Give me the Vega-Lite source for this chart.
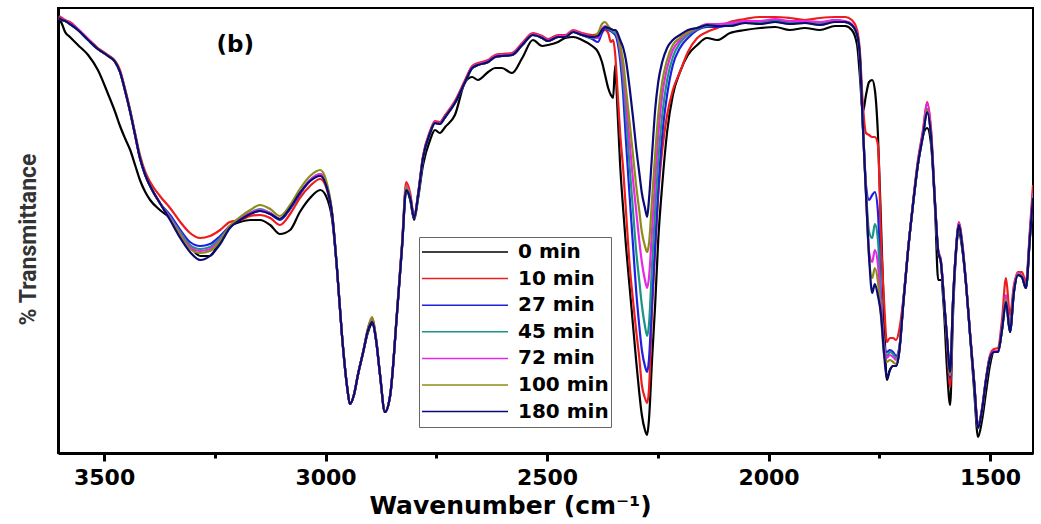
{
"$schema": "https://vega.github.io/schema/vega-lite/v6.json",
"width": 975, "height": 445,
"autosize": {"type": "none"},
"padding": {"left": 58, "top": 8, "right": 8, "bottom": 71},
"background": "white",
"config": {"view": {"stroke": "black", "strokeWidth": 2}, "axis": {"grid": false}},
"encoding": {
 "x": {"field": "wn", "type": "quantitative", "scale": {"domain": [1403, 3604], "reverse": true, "nice": false, "zero": false},
  "axis": {"title": "Wavenumber (cm⁻¹)", "values": [3500,3250,3000,2750,2500,2250,2000,1750,1500], "format": "d",
   "labelExpr": "datum.value % 500 === 0 ? datum.label : ''",
   "tickSize": {"condition": {"test": "datum.value % 500 === 0", "value": 8}, "value": 5},
   "tickWidth": 3, "tickColor": "black", "domainColor": "black", "domainWidth": 3,
   "labelFont": "DejaVu Sans", "labelFontWeight": "bold", "labelFontSize": 22, "labelColor": "black", "labelPadding": 6,
   "labelOverlap": false, "labelFlush": false,
   "titleFont": "DejaVu Sans", "titleFontWeight": "bold", "titleFontSize": 25, "titleColor": "black",
   "titleX": 452, "titleY": 60, "titleBaseline": "alphabetic", "titleAlign": "center"}},
 "y": {"field": "T", "type": "quantitative", "scale": {"domain": [0, 445], "nice": false, "zero": false},
  "axis": {"title": "% Transmittance", "ticks": false, "labels": false, "domainColor": "black", "domainWidth": 3,
   "titleFont": "Roboto", "titleFontWeight": "bold", "titleFontSize": 23, "titleColor": "#333333",
   "titleAngle": -90, "titleX": -23, "titleY": 231, "titleAlign": "center", "titleBaseline": "alphabetic"}}
},
"layer": [
{
"mark": {"type": "line", "strokeWidth": 2.2, "clip": true, "interpolate": "monotone"},
"encoding": {
 "color": {"field": "min", "type": "nominal",
  "scale": {"domain": [0,10,27,45,72,100,180], "range": ["#000000","#ee1c1c","#1f1fe0","#1a9488","#e628e6","#8c8c1a","#0a0a78"]},
  "legend": {"title": null, "orient": "none", "legendX": 361, "legendY": 229, "direction": "vertical",
   "symbolType": "stroke", "symbolSize": 7396, "symbolStrokeWidth": 1.5, "labelExpr": "datum.label + ' min'",
   "labelFont": "DejaVu Sans", "labelFontWeight": "bold", "labelFontSize": 20, "labelColor": "black", "labelOffset": 9,
   "padding": 2, "strokeColor": "#666666", "fillColor": "white", "clipHeight": 26, "rowPadding": 0.6, "symbolOffset": 0, "labelLimit": 200}}
},
"data": {"values": [
{"min":0,"wn":3602,"T":435},{"min":0,"wn":3595,"T":429},{"min":0,"wn":3588,"T":421},{"min":0,"wn":3577,"T":416},{"min":0,"wn":3559,"T":408},{"min":0,"wn":3536,"T":398},{"min":0,"wn":3514,"T":383},{"min":0,"wn":3491,"T":359},{"min":0,"wn":3475,"T":341},{"min":0,"wn":3464,"T":327},{"min":0,"wn":3453,"T":315},{"min":0,"wn":3441,"T":303},{"min":0,"wn":3430,"T":288},{"min":0,"wn":3419,"T":273},{"min":0,"wn":3407,"T":261},{"min":0,"wn":3396,"T":253},{"min":0,"wn":3374,"T":243},{"min":0,"wn":3351,"T":235},{"min":0,"wn":3328,"T":221},{"min":0,"wn":3306,"T":207},{"min":0,"wn":3283,"T":197},{"min":0,"wn":3261,"T":197},{"min":0,"wn":3238,"T":213},{"min":0,"wn":3216,"T":227},{"min":0,"wn":3193,"T":231},{"min":0,"wn":3170,"T":233},{"min":0,"wn":3148,"T":233},{"min":0,"wn":3125,"T":228},{"min":0,"wn":3103,"T":219},{"min":0,"wn":3080,"T":223},{"min":0,"wn":3058,"T":241},{"min":0,"wn":3035,"T":255},{"min":0,"wn":3012,"T":263},{"min":0,"wn":2999,"T":257},{"min":0,"wn":2985,"T":233},{"min":0,"wn":2974,"T":183},{"min":0,"wn":2963,"T":118},{"min":0,"wn":2951,"T":65},{"min":0,"wn":2945,"T":49},{"min":0,"wn":2936,"T":58},{"min":0,"wn":2927,"T":78},{"min":0,"wn":2915,"T":101},{"min":0,"wn":2904,"T":121},{"min":0,"wn":2895,"T":129},{"min":0,"wn":2886,"T":113},{"min":0,"wn":2877,"T":78},{"min":0,"wn":2866,"T":41},{"min":0,"wn":2854,"T":58},{"min":0,"wn":2839,"T":138},{"min":0,"wn":2827,"T":208},{"min":0,"wn":2818,"T":263},{"min":0,"wn":2809,"T":253},{"min":0,"wn":2800,"T":233},{"min":0,"wn":2791,"T":255},{"min":0,"wn":2780,"T":288},{"min":0,"wn":2764,"T":313},{"min":0,"wn":2753,"T":323},{"min":0,"wn":2742,"T":320},{"min":0,"wn":2730,"T":326},{"min":0,"wn":2708,"T":338},{"min":0,"wn":2685,"T":371},{"min":0,"wn":2669,"T":376},{"min":0,"wn":2656,"T":373},{"min":0,"wn":2633,"T":381},{"min":0,"wn":2617,"T":385},{"min":0,"wn":2602,"T":385},{"min":0,"wn":2579,"T":380},{"min":0,"wn":2556,"T":395},{"min":0,"wn":2532,"T":413},{"min":0,"wn":2511,"T":407},{"min":0,"wn":2498,"T":408},{"min":0,"wn":2475,"T":411},{"min":0,"wn":2459,"T":415},{"min":0,"wn":2441,"T":416},{"min":0,"wn":2421,"T":413},{"min":0,"wn":2398,"T":407},{"min":0,"wn":2385,"T":401},{"min":0,"wn":2376,"T":391},{"min":0,"wn":2369,"T":378},{"min":0,"wn":2362,"T":365},{"min":0,"wn":2356,"T":358},{"min":0,"wn":2351,"T":355},{"min":0,"wn":2346,"T":388},{"min":0,"wn":2342,"T":353},{"min":0,"wn":2335,"T":288},{"min":0,"wn":2328,"T":243},{"min":0,"wn":2322,"T":208},{"min":0,"wn":2313,"T":163},{"min":0,"wn":2306,"T":128},{"min":0,"wn":2299,"T":93},{"min":0,"wn":2292,"T":61},{"min":0,"wn":2286,"T":38},{"min":0,"wn":2279,"T":23},{"min":0,"wn":2274,"T":18},{"min":0,"wn":2270,"T":33},{"min":0,"wn":2263,"T":93},{"min":0,"wn":2256,"T":148},{"min":0,"wn":2249,"T":213},{"min":0,"wn":2240,"T":268},{"min":0,"wn":2229,"T":321},{"min":0,"wn":2216,"T":358},{"min":0,"wn":2200,"T":381},{"min":0,"wn":2182,"T":398},{"min":0,"wn":2161,"T":408},{"min":0,"wn":2139,"T":415},{"min":0,"wn":2116,"T":413},{"min":0,"wn":2087,"T":420},{"min":0,"wn":2053,"T":423},{"min":0,"wn":2019,"T":425},{"min":0,"wn":1985,"T":426},{"min":0,"wn":1952,"T":423},{"min":0,"wn":1918,"T":425},{"min":0,"wn":1884,"T":423},{"min":0,"wn":1850,"T":427},{"min":0,"wn":1827,"T":427},{"min":0,"wn":1812,"T":423},{"min":0,"wn":1800,"T":408},{"min":0,"wn":1794,"T":378},{"min":0,"wn":1787,"T":341},{"min":0,"wn":1780,"T":358},{"min":0,"wn":1773,"T":371},{"min":0,"wn":1766,"T":373},{"min":0,"wn":1760,"T":363},{"min":0,"wn":1753,"T":318},{"min":0,"wn":1746,"T":228},{"min":0,"wn":1739,"T":133},{"min":0,"wn":1733,"T":73},{"min":0,"wn":1726,"T":83},{"min":0,"wn":1719,"T":87},{"min":0,"wn":1712,"T":87},{"min":0,"wn":1705,"T":101},{"min":0,"wn":1696,"T":148},{"min":0,"wn":1685,"T":203},{"min":0,"wn":1674,"T":248},{"min":0,"wn":1663,"T":288},{"min":0,"wn":1651,"T":318},{"min":0,"wn":1642,"T":325},{"min":0,"wn":1633,"T":308},{"min":0,"wn":1624,"T":243},{"min":0,"wn":1617,"T":173},{"min":0,"wn":1611,"T":173},{"min":0,"wn":1604,"T":143},{"min":0,"wn":1597,"T":83},{"min":0,"wn":1590,"T":48},{"min":0,"wn":1584,"T":133},{"min":0,"wn":1577,"T":198},{"min":0,"wn":1570,"T":221},{"min":0,"wn":1563,"T":205},{"min":0,"wn":1554,"T":168},{"min":0,"wn":1545,"T":118},{"min":0,"wn":1536,"T":63},{"min":0,"wn":1527,"T":16},{"min":0,"wn":1518,"T":33},{"min":0,"wn":1509,"T":61},{"min":0,"wn":1500,"T":88},{"min":0,"wn":1491,"T":101},{"min":0,"wn":1482,"T":101},{"min":0,"wn":1473,"T":123},{"min":0,"wn":1464,"T":151},{"min":0,"wn":1455,"T":121},{"min":0,"wn":1446,"T":161},{"min":0,"wn":1437,"T":178},{"min":0,"wn":1428,"T":176},{"min":0,"wn":1419,"T":165},{"min":0,"wn":1410,"T":215},{"min":0,"wn":1403,"T":255},
{"min":10,"wn":3602,"T":437},{"min":10,"wn":3595,"T":435},{"min":10,"wn":3588,"T":433},{"min":10,"wn":3577,"T":431},{"min":10,"wn":3559,"T":424},{"min":10,"wn":3536,"T":414},{"min":10,"wn":3514,"T":405},{"min":10,"wn":3491,"T":398},{"min":10,"wn":3475,"T":392},{"min":10,"wn":3464,"T":383},{"min":10,"wn":3453,"T":365},{"min":10,"wn":3441,"T":343},{"min":10,"wn":3430,"T":320},{"min":10,"wn":3419,"T":298},{"min":10,"wn":3407,"T":281},{"min":10,"wn":3396,"T":271},{"min":10,"wn":3374,"T":257},{"min":10,"wn":3351,"T":245},{"min":10,"wn":3328,"T":231},{"min":10,"wn":3306,"T":220},{"min":10,"wn":3283,"T":215},{"min":10,"wn":3261,"T":217},{"min":10,"wn":3238,"T":223},{"min":10,"wn":3216,"T":231},{"min":10,"wn":3193,"T":233},{"min":10,"wn":3170,"T":237},{"min":10,"wn":3148,"T":238},{"min":10,"wn":3125,"T":235},{"min":10,"wn":3103,"T":228},{"min":10,"wn":3080,"T":239},{"min":10,"wn":3058,"T":255},{"min":10,"wn":3035,"T":267},{"min":10,"wn":3012,"T":274},{"min":10,"wn":2999,"T":266},{"min":10,"wn":2985,"T":238},{"min":10,"wn":2974,"T":183},{"min":10,"wn":2963,"T":118},{"min":10,"wn":2951,"T":65},{"min":10,"wn":2945,"T":49},{"min":10,"wn":2936,"T":58},{"min":10,"wn":2927,"T":78},{"min":10,"wn":2915,"T":102},{"min":10,"wn":2904,"T":125},{"min":10,"wn":2895,"T":135},{"min":10,"wn":2886,"T":115},{"min":10,"wn":2877,"T":78},{"min":10,"wn":2866,"T":41},{"min":10,"wn":2854,"T":58},{"min":10,"wn":2839,"T":140},{"min":10,"wn":2827,"T":212},{"min":10,"wn":2818,"T":271},{"min":10,"wn":2809,"T":260},{"min":10,"wn":2800,"T":236},{"min":10,"wn":2791,"T":260},{"min":10,"wn":2780,"T":297},{"min":10,"wn":2764,"T":322},{"min":10,"wn":2753,"T":332},{"min":10,"wn":2742,"T":331},{"min":10,"wn":2730,"T":338},{"min":10,"wn":2708,"T":352},{"min":10,"wn":2685,"T":373},{"min":10,"wn":2669,"T":387},{"min":10,"wn":2656,"T":390},{"min":10,"wn":2633,"T":393},{"min":10,"wn":2617,"T":398},{"min":10,"wn":2602,"T":399},{"min":10,"wn":2579,"T":400},{"min":10,"wn":2556,"T":410},{"min":10,"wn":2532,"T":420},{"min":10,"wn":2511,"T":417},{"min":10,"wn":2498,"T":414},{"min":10,"wn":2475,"T":418},{"min":10,"wn":2459,"T":418},{"min":10,"wn":2441,"T":423},{"min":10,"wn":2421,"T":420},{"min":10,"wn":2398,"T":418},{"min":10,"wn":2385,"T":419},{"min":10,"wn":2376,"T":421},{"min":10,"wn":2369,"T":423},{"min":10,"wn":2362,"T":420},{"min":10,"wn":2356,"T":411},{"min":10,"wn":2351,"T":413},{"min":10,"wn":2346,"T":398},{"min":10,"wn":2342,"T":370},{"min":10,"wn":2335,"T":320},{"min":10,"wn":2328,"T":283},{"min":10,"wn":2322,"T":243},{"min":10,"wn":2313,"T":185},{"min":10,"wn":2306,"T":153},{"min":10,"wn":2299,"T":123},{"min":10,"wn":2292,"T":96},{"min":10,"wn":2286,"T":68},{"min":10,"wn":2279,"T":55},{"min":10,"wn":2274,"T":50},{"min":10,"wn":2270,"T":63},{"min":10,"wn":2263,"T":143},{"min":10,"wn":2256,"T":203},{"min":10,"wn":2249,"T":258},{"min":10,"wn":2240,"T":303},{"min":10,"wn":2229,"T":338},{"min":10,"wn":2216,"T":363},{"min":10,"wn":2200,"T":381},{"min":10,"wn":2182,"T":401},{"min":10,"wn":2161,"T":415},{"min":10,"wn":2139,"T":421},{"min":10,"wn":2116,"T":425},{"min":10,"wn":2087,"T":431},{"min":10,"wn":2053,"T":434},{"min":10,"wn":2019,"T":436},{"min":10,"wn":1985,"T":436},{"min":10,"wn":1952,"T":435},{"min":10,"wn":1918,"T":433},{"min":10,"wn":1884,"T":435},{"min":10,"wn":1850,"T":436},{"min":10,"wn":1827,"T":436},{"min":10,"wn":1812,"T":433},{"min":10,"wn":1800,"T":423},{"min":10,"wn":1794,"T":403},{"min":10,"wn":1787,"T":348},{"min":10,"wn":1780,"T":320},{"min":10,"wn":1773,"T":318},{"min":10,"wn":1766,"T":316},{"min":10,"wn":1760,"T":316},{"min":10,"wn":1753,"T":308},{"min":10,"wn":1746,"T":213},{"min":10,"wn":1739,"T":150},{"min":10,"wn":1733,"T":111},{"min":10,"wn":1726,"T":115},{"min":10,"wn":1719,"T":115},{"min":10,"wn":1712,"T":113},{"min":10,"wn":1705,"T":123},{"min":10,"wn":1696,"T":153},{"min":10,"wn":1685,"T":203},{"min":10,"wn":1674,"T":250},{"min":10,"wn":1663,"T":292},{"min":10,"wn":1651,"T":324},{"min":10,"wn":1642,"T":351},{"min":10,"wn":1633,"T":323},{"min":10,"wn":1624,"T":250},{"min":10,"wn":1617,"T":203},{"min":10,"wn":1611,"T":193},{"min":10,"wn":1604,"T":155},{"min":10,"wn":1597,"T":110},{"min":10,"wn":1590,"T":66},{"min":10,"wn":1584,"T":143},{"min":10,"wn":1577,"T":203},{"min":10,"wn":1570,"T":231},{"min":10,"wn":1563,"T":212},{"min":10,"wn":1554,"T":170},{"min":10,"wn":1545,"T":120},{"min":10,"wn":1536,"T":73},{"min":10,"wn":1527,"T":28},{"min":10,"wn":1518,"T":45},{"min":10,"wn":1509,"T":75},{"min":10,"wn":1500,"T":98},{"min":10,"wn":1491,"T":104},{"min":10,"wn":1482,"T":105},{"min":10,"wn":1473,"T":133},{"min":10,"wn":1464,"T":175},{"min":10,"wn":1455,"T":138},{"min":10,"wn":1446,"T":168},{"min":10,"wn":1437,"T":181},{"min":10,"wn":1428,"T":181},{"min":10,"wn":1419,"T":171},{"min":10,"wn":1410,"T":223},{"min":10,"wn":1403,"T":268},
{"min":27,"wn":3602,"T":435},{"min":27,"wn":3595,"T":433},{"min":27,"wn":3588,"T":432},{"min":27,"wn":3577,"T":429},{"min":27,"wn":3559,"T":423},{"min":27,"wn":3536,"T":413},{"min":27,"wn":3514,"T":404},{"min":27,"wn":3491,"T":397},{"min":27,"wn":3475,"T":391},{"min":27,"wn":3464,"T":381},{"min":27,"wn":3453,"T":363},{"min":27,"wn":3441,"T":341},{"min":27,"wn":3430,"T":318},{"min":27,"wn":3419,"T":295},{"min":27,"wn":3407,"T":278},{"min":27,"wn":3396,"T":267},{"min":27,"wn":3374,"T":250},{"min":27,"wn":3351,"T":238},{"min":27,"wn":3328,"T":223},{"min":27,"wn":3306,"T":211},{"min":27,"wn":3283,"T":207},{"min":27,"wn":3261,"T":209},{"min":27,"wn":3238,"T":217},{"min":27,"wn":3216,"T":227},{"min":27,"wn":3193,"T":234},{"min":27,"wn":3170,"T":240},{"min":27,"wn":3148,"T":242},{"min":27,"wn":3125,"T":239},{"min":27,"wn":3103,"T":233},{"min":27,"wn":3080,"T":244},{"min":27,"wn":3058,"T":259},{"min":27,"wn":3035,"T":272},{"min":27,"wn":3012,"T":278},{"min":27,"wn":2999,"T":269},{"min":27,"wn":2985,"T":238},{"min":27,"wn":2974,"T":183},{"min":27,"wn":2963,"T":118},{"min":27,"wn":2951,"T":65},{"min":27,"wn":2945,"T":49},{"min":27,"wn":2936,"T":58},{"min":27,"wn":2927,"T":78},{"min":27,"wn":2915,"T":101},{"min":27,"wn":2904,"T":123},{"min":27,"wn":2895,"T":132},{"min":27,"wn":2886,"T":113},{"min":27,"wn":2877,"T":78},{"min":27,"wn":2866,"T":41},{"min":27,"wn":2854,"T":58},{"min":27,"wn":2839,"T":138},{"min":27,"wn":2827,"T":209},{"min":27,"wn":2818,"T":265},{"min":27,"wn":2809,"T":256},{"min":27,"wn":2800,"T":235},{"min":27,"wn":2791,"T":258},{"min":27,"wn":2780,"T":295},{"min":27,"wn":2764,"T":320},{"min":27,"wn":2753,"T":330},{"min":27,"wn":2742,"T":329},{"min":27,"wn":2730,"T":336},{"min":27,"wn":2708,"T":350},{"min":27,"wn":2685,"T":371},{"min":27,"wn":2669,"T":385},{"min":27,"wn":2656,"T":388},{"min":27,"wn":2633,"T":391},{"min":27,"wn":2617,"T":396},{"min":27,"wn":2602,"T":397},{"min":27,"wn":2579,"T":398},{"min":27,"wn":2556,"T":408},{"min":27,"wn":2532,"T":418},{"min":27,"wn":2511,"T":415},{"min":27,"wn":2498,"T":412},{"min":27,"wn":2475,"T":416},{"min":27,"wn":2459,"T":416},{"min":27,"wn":2441,"T":421},{"min":27,"wn":2421,"T":418},{"min":27,"wn":2398,"T":414},{"min":27,"wn":2385,"T":411},{"min":27,"wn":2376,"T":420},{"min":27,"wn":2369,"T":425},{"min":27,"wn":2362,"T":423},{"min":27,"wn":2356,"T":422},{"min":27,"wn":2351,"T":420},{"min":27,"wn":2346,"T":418},{"min":27,"wn":2342,"T":413},{"min":27,"wn":2335,"T":393},{"min":27,"wn":2328,"T":358},{"min":27,"wn":2322,"T":313},{"min":27,"wn":2313,"T":253},{"min":27,"wn":2306,"T":208},{"min":27,"wn":2299,"T":163},{"min":27,"wn":2292,"T":128},{"min":27,"wn":2286,"T":103},{"min":27,"wn":2279,"T":87},{"min":27,"wn":2274,"T":81},{"min":27,"wn":2270,"T":93},{"min":27,"wn":2263,"T":153},{"min":27,"wn":2256,"T":208},{"min":27,"wn":2249,"T":263},{"min":27,"wn":2240,"T":318},{"min":27,"wn":2229,"T":358},{"min":27,"wn":2216,"T":388},{"min":27,"wn":2200,"T":405},{"min":27,"wn":2182,"T":415},{"min":27,"wn":2161,"T":423},{"min":27,"wn":2139,"T":426},{"min":27,"wn":2116,"T":426},{"min":27,"wn":2087,"T":428},{"min":27,"wn":2053,"T":431},{"min":27,"wn":2019,"T":431},{"min":27,"wn":1985,"T":433},{"min":27,"wn":1952,"T":431},{"min":27,"wn":1918,"T":431},{"min":27,"wn":1884,"T":430},{"min":27,"wn":1850,"T":433},{"min":27,"wn":1827,"T":431},{"min":27,"wn":1812,"T":428},{"min":27,"wn":1800,"T":418},{"min":27,"wn":1794,"T":395},{"min":27,"wn":1787,"T":328},{"min":27,"wn":1780,"T":268},{"min":27,"wn":1773,"T":253},{"min":27,"wn":1766,"T":258},{"min":27,"wn":1760,"T":261},{"min":27,"wn":1753,"T":241},{"min":27,"wn":1746,"T":153},{"min":27,"wn":1739,"T":108},{"min":27,"wn":1733,"T":101},{"min":27,"wn":1726,"T":103},{"min":27,"wn":1719,"T":101},{"min":27,"wn":1712,"T":97},{"min":27,"wn":1705,"T":105},{"min":27,"wn":1696,"T":150},{"min":27,"wn":1685,"T":203},{"min":27,"wn":1674,"T":248},{"min":27,"wn":1663,"T":288},{"min":27,"wn":1651,"T":320},{"min":27,"wn":1642,"T":344},{"min":27,"wn":1633,"T":316},{"min":27,"wn":1624,"T":248},{"min":27,"wn":1617,"T":201},{"min":27,"wn":1611,"T":191},{"min":27,"wn":1604,"T":153},{"min":27,"wn":1597,"T":113},{"min":27,"wn":1590,"T":75},{"min":27,"wn":1584,"T":146},{"min":27,"wn":1577,"T":201},{"min":27,"wn":1570,"T":229},{"min":27,"wn":1563,"T":208},{"min":27,"wn":1554,"T":168},{"min":27,"wn":1545,"T":118},{"min":27,"wn":1536,"T":71},{"min":27,"wn":1527,"T":26},{"min":27,"wn":1518,"T":43},{"min":27,"wn":1509,"T":73},{"min":27,"wn":1500,"T":96},{"min":27,"wn":1491,"T":101},{"min":27,"wn":1482,"T":101},{"min":27,"wn":1473,"T":125},{"min":27,"wn":1464,"T":155},{"min":27,"wn":1455,"T":123},{"min":27,"wn":1446,"T":163},{"min":27,"wn":1437,"T":179},{"min":27,"wn":1428,"T":177},{"min":27,"wn":1419,"T":166},{"min":27,"wn":1410,"T":218},{"min":27,"wn":1403,"T":258},
{"min":45,"wn":3602,"T":435},{"min":45,"wn":3595,"T":433},{"min":45,"wn":3588,"T":432},{"min":45,"wn":3577,"T":429},{"min":45,"wn":3559,"T":423},{"min":45,"wn":3536,"T":413},{"min":45,"wn":3514,"T":404},{"min":45,"wn":3491,"T":397},{"min":45,"wn":3475,"T":391},{"min":45,"wn":3464,"T":381},{"min":45,"wn":3453,"T":363},{"min":45,"wn":3441,"T":341},{"min":45,"wn":3430,"T":318},{"min":45,"wn":3419,"T":295},{"min":45,"wn":3407,"T":278},{"min":45,"wn":3396,"T":267},{"min":45,"wn":3374,"T":250},{"min":45,"wn":3351,"T":236},{"min":45,"wn":3328,"T":221},{"min":45,"wn":3306,"T":208},{"min":45,"wn":3283,"T":204},{"min":45,"wn":3261,"T":206},{"min":45,"wn":3238,"T":215},{"min":45,"wn":3216,"T":226},{"min":45,"wn":3193,"T":234},{"min":45,"wn":3170,"T":240},{"min":45,"wn":3148,"T":244},{"min":45,"wn":3125,"T":240},{"min":45,"wn":3103,"T":234},{"min":45,"wn":3080,"T":245},{"min":45,"wn":3058,"T":260},{"min":45,"wn":3035,"T":273},{"min":45,"wn":3012,"T":279},{"min":45,"wn":2999,"T":270},{"min":45,"wn":2985,"T":238},{"min":45,"wn":2974,"T":183},{"min":45,"wn":2963,"T":118},{"min":45,"wn":2951,"T":65},{"min":45,"wn":2945,"T":49},{"min":45,"wn":2936,"T":58},{"min":45,"wn":2927,"T":78},{"min":45,"wn":2915,"T":101},{"min":45,"wn":2904,"T":124},{"min":45,"wn":2895,"T":133},{"min":45,"wn":2886,"T":113},{"min":45,"wn":2877,"T":78},{"min":45,"wn":2866,"T":41},{"min":45,"wn":2854,"T":58},{"min":45,"wn":2839,"T":138},{"min":45,"wn":2827,"T":209},{"min":45,"wn":2818,"T":265},{"min":45,"wn":2809,"T":256},{"min":45,"wn":2800,"T":235},{"min":45,"wn":2791,"T":258},{"min":45,"wn":2780,"T":295},{"min":45,"wn":2764,"T":320},{"min":45,"wn":2753,"T":330},{"min":45,"wn":2742,"T":329},{"min":45,"wn":2730,"T":336},{"min":45,"wn":2708,"T":350},{"min":45,"wn":2685,"T":371},{"min":45,"wn":2669,"T":385},{"min":45,"wn":2656,"T":388},{"min":45,"wn":2633,"T":391},{"min":45,"wn":2617,"T":396},{"min":45,"wn":2602,"T":397},{"min":45,"wn":2579,"T":398},{"min":45,"wn":2556,"T":408},{"min":45,"wn":2532,"T":418},{"min":45,"wn":2511,"T":415},{"min":45,"wn":2498,"T":412},{"min":45,"wn":2475,"T":416},{"min":45,"wn":2459,"T":416},{"min":45,"wn":2441,"T":421},{"min":45,"wn":2421,"T":418},{"min":45,"wn":2398,"T":415},{"min":45,"wn":2385,"T":415},{"min":45,"wn":2376,"T":423},{"min":45,"wn":2369,"T":426},{"min":45,"wn":2362,"T":424},{"min":45,"wn":2356,"T":423},{"min":45,"wn":2351,"T":421},{"min":45,"wn":2346,"T":420},{"min":45,"wn":2342,"T":417},{"min":45,"wn":2335,"T":401},{"min":45,"wn":2328,"T":373},{"min":45,"wn":2322,"T":338},{"min":45,"wn":2313,"T":283},{"min":45,"wn":2306,"T":243},{"min":45,"wn":2299,"T":203},{"min":45,"wn":2292,"T":173},{"min":45,"wn":2286,"T":148},{"min":45,"wn":2279,"T":127},{"min":45,"wn":2274,"T":117},{"min":45,"wn":2270,"T":128},{"min":45,"wn":2263,"T":188},{"min":45,"wn":2256,"T":243},{"min":45,"wn":2249,"T":293},{"min":45,"wn":2240,"T":338},{"min":45,"wn":2229,"T":373},{"min":45,"wn":2216,"T":396},{"min":45,"wn":2200,"T":410},{"min":45,"wn":2182,"T":418},{"min":45,"wn":2161,"T":424},{"min":45,"wn":2139,"T":427},{"min":45,"wn":2116,"T":427},{"min":45,"wn":2087,"T":428},{"min":45,"wn":2053,"T":430},{"min":45,"wn":2019,"T":430},{"min":45,"wn":1985,"T":432},{"min":45,"wn":1952,"T":430},{"min":45,"wn":1918,"T":431},{"min":45,"wn":1884,"T":429},{"min":45,"wn":1850,"T":432},{"min":45,"wn":1827,"T":431},{"min":45,"wn":1812,"T":428},{"min":45,"wn":1800,"T":418},{"min":45,"wn":1794,"T":396},{"min":45,"wn":1787,"T":328},{"min":45,"wn":1780,"T":263},{"min":45,"wn":1773,"T":221},{"min":45,"wn":1766,"T":215},{"min":45,"wn":1760,"T":229},{"min":45,"wn":1753,"T":213},{"min":45,"wn":1746,"T":148},{"min":45,"wn":1739,"T":108},{"min":45,"wn":1733,"T":97},{"min":45,"wn":1726,"T":101},{"min":45,"wn":1719,"T":99},{"min":45,"wn":1712,"T":95},{"min":45,"wn":1705,"T":103},{"min":45,"wn":1696,"T":149},{"min":45,"wn":1685,"T":203},{"min":45,"wn":1674,"T":248},{"min":45,"wn":1663,"T":288},{"min":45,"wn":1651,"T":319},{"min":45,"wn":1642,"T":343},{"min":45,"wn":1633,"T":316},{"min":45,"wn":1624,"T":248},{"min":45,"wn":1617,"T":201},{"min":45,"wn":1611,"T":191},{"min":45,"wn":1604,"T":153},{"min":45,"wn":1597,"T":114},{"min":45,"wn":1590,"T":78},{"min":45,"wn":1584,"T":147},{"min":45,"wn":1577,"T":201},{"min":45,"wn":1570,"T":228},{"min":45,"wn":1563,"T":208},{"min":45,"wn":1554,"T":168},{"min":45,"wn":1545,"T":118},{"min":45,"wn":1536,"T":71},{"min":45,"wn":1527,"T":25},{"min":45,"wn":1518,"T":43},{"min":45,"wn":1509,"T":73},{"min":45,"wn":1500,"T":95},{"min":45,"wn":1491,"T":101},{"min":45,"wn":1482,"T":101},{"min":45,"wn":1473,"T":124},{"min":45,"wn":1464,"T":153},{"min":45,"wn":1455,"T":122},{"min":45,"wn":1446,"T":162},{"min":45,"wn":1437,"T":178},{"min":45,"wn":1428,"T":176},{"min":45,"wn":1419,"T":165},{"min":45,"wn":1410,"T":216},{"min":45,"wn":1403,"T":256},
{"min":72,"wn":3602,"T":436},{"min":72,"wn":3595,"T":434},{"min":72,"wn":3588,"T":432},{"min":72,"wn":3577,"T":430},{"min":72,"wn":3559,"T":424},{"min":72,"wn":3536,"T":414},{"min":72,"wn":3514,"T":404},{"min":72,"wn":3491,"T":397},{"min":72,"wn":3475,"T":391},{"min":72,"wn":3464,"T":381},{"min":72,"wn":3453,"T":363},{"min":72,"wn":3441,"T":341},{"min":72,"wn":3430,"T":318},{"min":72,"wn":3419,"T":295},{"min":72,"wn":3407,"T":278},{"min":72,"wn":3396,"T":267},{"min":72,"wn":3374,"T":250},{"min":72,"wn":3351,"T":235},{"min":72,"wn":3328,"T":219},{"min":72,"wn":3306,"T":206},{"min":72,"wn":3283,"T":202},{"min":72,"wn":3261,"T":204},{"min":72,"wn":3238,"T":213},{"min":72,"wn":3216,"T":226},{"min":72,"wn":3193,"T":234},{"min":72,"wn":3170,"T":240},{"min":72,"wn":3148,"T":243},{"min":72,"wn":3125,"T":240},{"min":72,"wn":3103,"T":234},{"min":72,"wn":3080,"T":245},{"min":72,"wn":3058,"T":260},{"min":72,"wn":3035,"T":273},{"min":72,"wn":3012,"T":279},{"min":72,"wn":2999,"T":270},{"min":72,"wn":2985,"T":238},{"min":72,"wn":2974,"T":183},{"min":72,"wn":2963,"T":118},{"min":72,"wn":2951,"T":65},{"min":72,"wn":2945,"T":49},{"min":72,"wn":2936,"T":58},{"min":72,"wn":2927,"T":78},{"min":72,"wn":2915,"T":101},{"min":72,"wn":2904,"T":124},{"min":72,"wn":2895,"T":134},{"min":72,"wn":2886,"T":113},{"min":72,"wn":2877,"T":78},{"min":72,"wn":2866,"T":41},{"min":72,"wn":2854,"T":58},{"min":72,"wn":2839,"T":138},{"min":72,"wn":2827,"T":210},{"min":72,"wn":2818,"T":267},{"min":72,"wn":2809,"T":257},{"min":72,"wn":2800,"T":235},{"min":72,"wn":2791,"T":259},{"min":72,"wn":2780,"T":296},{"min":72,"wn":2764,"T":321},{"min":72,"wn":2753,"T":331},{"min":72,"wn":2742,"T":330},{"min":72,"wn":2730,"T":337},{"min":72,"wn":2708,"T":351},{"min":72,"wn":2685,"T":372},{"min":72,"wn":2669,"T":386},{"min":72,"wn":2656,"T":389},{"min":72,"wn":2633,"T":392},{"min":72,"wn":2617,"T":397},{"min":72,"wn":2602,"T":398},{"min":72,"wn":2579,"T":399},{"min":72,"wn":2556,"T":409},{"min":72,"wn":2532,"T":419},{"min":72,"wn":2511,"T":416},{"min":72,"wn":2498,"T":413},{"min":72,"wn":2475,"T":417},{"min":72,"wn":2459,"T":417},{"min":72,"wn":2441,"T":422},{"min":72,"wn":2421,"T":419},{"min":72,"wn":2398,"T":416},{"min":72,"wn":2385,"T":415},{"min":72,"wn":2376,"T":424},{"min":72,"wn":2369,"T":427},{"min":72,"wn":2362,"T":425},{"min":72,"wn":2356,"T":424},{"min":72,"wn":2351,"T":423},{"min":72,"wn":2346,"T":422},{"min":72,"wn":2342,"T":419},{"min":72,"wn":2335,"T":405},{"min":72,"wn":2328,"T":383},{"min":72,"wn":2322,"T":353},{"min":72,"wn":2313,"T":308},{"min":72,"wn":2306,"T":273},{"min":72,"wn":2299,"T":243},{"min":72,"wn":2292,"T":213},{"min":72,"wn":2286,"T":191},{"min":72,"wn":2279,"T":173},{"min":72,"wn":2274,"T":165},{"min":72,"wn":2270,"T":175},{"min":72,"wn":2263,"T":223},{"min":72,"wn":2256,"T":273},{"min":72,"wn":2249,"T":318},{"min":72,"wn":2240,"T":358},{"min":72,"wn":2229,"T":385},{"min":72,"wn":2216,"T":403},{"min":72,"wn":2200,"T":413},{"min":72,"wn":2182,"T":420},{"min":72,"wn":2161,"T":425},{"min":72,"wn":2139,"T":429},{"min":72,"wn":2116,"T":429},{"min":72,"wn":2087,"T":430},{"min":72,"wn":2053,"T":432},{"min":72,"wn":2019,"T":432},{"min":72,"wn":1985,"T":434},{"min":72,"wn":1952,"T":432},{"min":72,"wn":1918,"T":432},{"min":72,"wn":1884,"T":431},{"min":72,"wn":1850,"T":433},{"min":72,"wn":1827,"T":432},{"min":72,"wn":1812,"T":429},{"min":72,"wn":1800,"T":419},{"min":72,"wn":1794,"T":397},{"min":72,"wn":1787,"T":327},{"min":72,"wn":1780,"T":260},{"min":72,"wn":1773,"T":201},{"min":72,"wn":1766,"T":191},{"min":72,"wn":1760,"T":203},{"min":72,"wn":1753,"T":188},{"min":72,"wn":1746,"T":143},{"min":72,"wn":1739,"T":105},{"min":72,"wn":1733,"T":95},{"min":72,"wn":1726,"T":98},{"min":72,"wn":1719,"T":96},{"min":72,"wn":1712,"T":93},{"min":72,"wn":1705,"T":103},{"min":72,"wn":1696,"T":150},{"min":72,"wn":1685,"T":204},{"min":72,"wn":1674,"T":249},{"min":72,"wn":1663,"T":290},{"min":72,"wn":1651,"T":322},{"min":72,"wn":1642,"T":350},{"min":72,"wn":1633,"T":320},{"min":72,"wn":1624,"T":249},{"min":72,"wn":1617,"T":202},{"min":72,"wn":1611,"T":192},{"min":72,"wn":1604,"T":154},{"min":72,"wn":1597,"T":115},{"min":72,"wn":1590,"T":78},{"min":72,"wn":1584,"T":148},{"min":72,"wn":1577,"T":202},{"min":72,"wn":1570,"T":230},{"min":72,"wn":1563,"T":209},{"min":72,"wn":1554,"T":169},{"min":72,"wn":1545,"T":119},{"min":72,"wn":1536,"T":72},{"min":72,"wn":1527,"T":26},{"min":72,"wn":1518,"T":44},{"min":72,"wn":1509,"T":74},{"min":72,"wn":1500,"T":96},{"min":72,"wn":1491,"T":102},{"min":72,"wn":1482,"T":102},{"min":72,"wn":1473,"T":126},{"min":72,"wn":1464,"T":158},{"min":72,"wn":1455,"T":125},{"min":72,"wn":1446,"T":165},{"min":72,"wn":1437,"T":180},{"min":72,"wn":1428,"T":178},{"min":72,"wn":1419,"T":167},{"min":72,"wn":1410,"T":219},{"min":72,"wn":1403,"T":260},
{"min":100,"wn":3602,"T":435},{"min":100,"wn":3595,"T":433},{"min":100,"wn":3588,"T":432},{"min":100,"wn":3577,"T":429},{"min":100,"wn":3559,"T":423},{"min":100,"wn":3536,"T":413},{"min":100,"wn":3514,"T":404},{"min":100,"wn":3491,"T":397},{"min":100,"wn":3475,"T":391},{"min":100,"wn":3464,"T":381},{"min":100,"wn":3453,"T":363},{"min":100,"wn":3441,"T":341},{"min":100,"wn":3430,"T":318},{"min":100,"wn":3419,"T":295},{"min":100,"wn":3407,"T":278},{"min":100,"wn":3396,"T":267},{"min":100,"wn":3374,"T":250},{"min":100,"wn":3351,"T":234},{"min":100,"wn":3328,"T":218},{"min":100,"wn":3306,"T":204},{"min":100,"wn":3283,"T":200},{"min":100,"wn":3261,"T":202},{"min":100,"wn":3238,"T":212},{"min":100,"wn":3216,"T":227},{"min":100,"wn":3193,"T":236},{"min":100,"wn":3170,"T":243},{"min":100,"wn":3148,"T":248},{"min":100,"wn":3125,"T":244},{"min":100,"wn":3103,"T":237},{"min":100,"wn":3080,"T":248},{"min":100,"wn":3058,"T":264},{"min":100,"wn":3035,"T":277},{"min":100,"wn":3012,"T":283},{"min":100,"wn":2999,"T":273},{"min":100,"wn":2985,"T":240},{"min":100,"wn":2974,"T":184},{"min":100,"wn":2963,"T":118},{"min":100,"wn":2951,"T":65},{"min":100,"wn":2945,"T":49},{"min":100,"wn":2936,"T":58},{"min":100,"wn":2927,"T":78},{"min":100,"wn":2915,"T":101},{"min":100,"wn":2904,"T":125},{"min":100,"wn":2895,"T":136},{"min":100,"wn":2886,"T":113},{"min":100,"wn":2877,"T":78},{"min":100,"wn":2866,"T":41},{"min":100,"wn":2854,"T":58},{"min":100,"wn":2839,"T":139},{"min":100,"wn":2827,"T":210},{"min":100,"wn":2818,"T":266},{"min":100,"wn":2809,"T":256},{"min":100,"wn":2800,"T":235},{"min":100,"wn":2791,"T":258},{"min":100,"wn":2780,"T":295},{"min":100,"wn":2764,"T":320},{"min":100,"wn":2753,"T":330},{"min":100,"wn":2742,"T":329},{"min":100,"wn":2730,"T":336},{"min":100,"wn":2708,"T":350},{"min":100,"wn":2685,"T":371},{"min":100,"wn":2669,"T":385},{"min":100,"wn":2656,"T":388},{"min":100,"wn":2633,"T":391},{"min":100,"wn":2617,"T":396},{"min":100,"wn":2602,"T":397},{"min":100,"wn":2579,"T":398},{"min":100,"wn":2556,"T":408},{"min":100,"wn":2532,"T":418},{"min":100,"wn":2511,"T":415},{"min":100,"wn":2498,"T":412},{"min":100,"wn":2475,"T":416},{"min":100,"wn":2459,"T":416},{"min":100,"wn":2441,"T":421},{"min":100,"wn":2421,"T":418},{"min":100,"wn":2398,"T":416},{"min":100,"wn":2385,"T":420},{"min":100,"wn":2376,"T":429},{"min":100,"wn":2369,"T":431},{"min":100,"wn":2362,"T":427},{"min":100,"wn":2356,"T":424},{"min":100,"wn":2351,"T":423},{"min":100,"wn":2346,"T":422},{"min":100,"wn":2342,"T":420},{"min":100,"wn":2335,"T":408},{"min":100,"wn":2328,"T":391},{"min":100,"wn":2322,"T":365},{"min":100,"wn":2313,"T":328},{"min":100,"wn":2306,"T":298},{"min":100,"wn":2299,"T":268},{"min":100,"wn":2292,"T":243},{"min":100,"wn":2286,"T":221},{"min":100,"wn":2279,"T":207},{"min":100,"wn":2274,"T":201},{"min":100,"wn":2270,"T":209},{"min":100,"wn":2263,"T":253},{"min":100,"wn":2256,"T":298},{"min":100,"wn":2249,"T":338},{"min":100,"wn":2240,"T":371},{"min":100,"wn":2229,"T":393},{"min":100,"wn":2216,"T":408},{"min":100,"wn":2200,"T":415},{"min":100,"wn":2182,"T":421},{"min":100,"wn":2161,"T":425},{"min":100,"wn":2139,"T":428},{"min":100,"wn":2116,"T":427},{"min":100,"wn":2087,"T":427},{"min":100,"wn":2053,"T":430},{"min":100,"wn":2019,"T":429},{"min":100,"wn":1985,"T":431},{"min":100,"wn":1952,"T":429},{"min":100,"wn":1918,"T":430},{"min":100,"wn":1884,"T":428},{"min":100,"wn":1850,"T":431},{"min":100,"wn":1827,"T":431},{"min":100,"wn":1812,"T":428},{"min":100,"wn":1800,"T":418},{"min":100,"wn":1794,"T":398},{"min":100,"wn":1787,"T":326},{"min":100,"wn":1780,"T":259},{"min":100,"wn":1773,"T":195},{"min":100,"wn":1766,"T":175},{"min":100,"wn":1760,"T":185},{"min":100,"wn":1753,"T":171},{"min":100,"wn":1746,"T":135},{"min":100,"wn":1739,"T":98},{"min":100,"wn":1733,"T":91},{"min":100,"wn":1726,"T":93},{"min":100,"wn":1719,"T":91},{"min":100,"wn":1712,"T":89},{"min":100,"wn":1705,"T":103},{"min":100,"wn":1696,"T":149},{"min":100,"wn":1685,"T":203},{"min":100,"wn":1674,"T":248},{"min":100,"wn":1663,"T":288},{"min":100,"wn":1651,"T":318},{"min":100,"wn":1642,"T":343},{"min":100,"wn":1633,"T":315},{"min":100,"wn":1624,"T":248},{"min":100,"wn":1617,"T":201},{"min":100,"wn":1611,"T":191},{"min":100,"wn":1604,"T":153},{"min":100,"wn":1597,"T":115},{"min":100,"wn":1590,"T":78},{"min":100,"wn":1584,"T":148},{"min":100,"wn":1577,"T":201},{"min":100,"wn":1570,"T":228},{"min":100,"wn":1563,"T":208},{"min":100,"wn":1554,"T":168},{"min":100,"wn":1545,"T":118},{"min":100,"wn":1536,"T":71},{"min":100,"wn":1527,"T":25},{"min":100,"wn":1518,"T":43},{"min":100,"wn":1509,"T":73},{"min":100,"wn":1500,"T":95},{"min":100,"wn":1491,"T":101},{"min":100,"wn":1482,"T":101},{"min":100,"wn":1473,"T":124},{"min":100,"wn":1464,"T":154},{"min":100,"wn":1455,"T":122},{"min":100,"wn":1446,"T":162},{"min":100,"wn":1437,"T":179},{"min":100,"wn":1428,"T":177},{"min":100,"wn":1419,"T":166},{"min":100,"wn":1410,"T":216},{"min":100,"wn":1403,"T":257},
{"min":180,"wn":3602,"T":435},{"min":180,"wn":3595,"T":433},{"min":180,"wn":3588,"T":432},{"min":180,"wn":3577,"T":429},{"min":180,"wn":3559,"T":423},{"min":180,"wn":3536,"T":413},{"min":180,"wn":3514,"T":404},{"min":180,"wn":3491,"T":397},{"min":180,"wn":3475,"T":391},{"min":180,"wn":3464,"T":381},{"min":180,"wn":3453,"T":363},{"min":180,"wn":3441,"T":341},{"min":180,"wn":3430,"T":318},{"min":180,"wn":3419,"T":295},{"min":180,"wn":3407,"T":278},{"min":180,"wn":3396,"T":267},{"min":180,"wn":3374,"T":250},{"min":180,"wn":3351,"T":233},{"min":180,"wn":3328,"T":215},{"min":180,"wn":3306,"T":201},{"min":180,"wn":3283,"T":193},{"min":180,"wn":3261,"T":197},{"min":180,"wn":3238,"T":209},{"min":180,"wn":3216,"T":225},{"min":180,"wn":3193,"T":233},{"min":180,"wn":3170,"T":239},{"min":180,"wn":3148,"T":242},{"min":180,"wn":3125,"T":239},{"min":180,"wn":3103,"T":234},{"min":180,"wn":3080,"T":245},{"min":180,"wn":3058,"T":260},{"min":180,"wn":3035,"T":272},{"min":180,"wn":3012,"T":277},{"min":180,"wn":2999,"T":268},{"min":180,"wn":2985,"T":238},{"min":180,"wn":2974,"T":183},{"min":180,"wn":2963,"T":118},{"min":180,"wn":2951,"T":65},{"min":180,"wn":2945,"T":49},{"min":180,"wn":2936,"T":58},{"min":180,"wn":2927,"T":78},{"min":180,"wn":2915,"T":101},{"min":180,"wn":2904,"T":123},{"min":180,"wn":2895,"T":131},{"min":180,"wn":2886,"T":113},{"min":180,"wn":2877,"T":78},{"min":180,"wn":2866,"T":41},{"min":180,"wn":2854,"T":58},{"min":180,"wn":2839,"T":138},{"min":180,"wn":2827,"T":208},{"min":180,"wn":2818,"T":263},{"min":180,"wn":2809,"T":255},{"min":180,"wn":2800,"T":235},{"min":180,"wn":2791,"T":258},{"min":180,"wn":2780,"T":295},{"min":180,"wn":2764,"T":320},{"min":180,"wn":2753,"T":330},{"min":180,"wn":2742,"T":329},{"min":180,"wn":2730,"T":336},{"min":180,"wn":2708,"T":350},{"min":180,"wn":2685,"T":371},{"min":180,"wn":2669,"T":385},{"min":180,"wn":2656,"T":388},{"min":180,"wn":2633,"T":391},{"min":180,"wn":2617,"T":396},{"min":180,"wn":2602,"T":397},{"min":180,"wn":2579,"T":398},{"min":180,"wn":2556,"T":408},{"min":180,"wn":2532,"T":418},{"min":180,"wn":2511,"T":415},{"min":180,"wn":2498,"T":412},{"min":180,"wn":2475,"T":416},{"min":180,"wn":2459,"T":416},{"min":180,"wn":2441,"T":421},{"min":180,"wn":2421,"T":418},{"min":180,"wn":2398,"T":416},{"min":180,"wn":2385,"T":417},{"min":180,"wn":2376,"T":423},{"min":180,"wn":2369,"T":426},{"min":180,"wn":2362,"T":425},{"min":180,"wn":2356,"T":424},{"min":180,"wn":2351,"T":423},{"min":180,"wn":2346,"T":423},{"min":180,"wn":2342,"T":421},{"min":180,"wn":2335,"T":413},{"min":180,"wn":2328,"T":405},{"min":180,"wn":2322,"T":393},{"min":180,"wn":2313,"T":363},{"min":180,"wn":2306,"T":336},{"min":180,"wn":2299,"T":306},{"min":180,"wn":2292,"T":281},{"min":180,"wn":2286,"T":260},{"min":180,"wn":2279,"T":245},{"min":180,"wn":2274,"T":236},{"min":180,"wn":2270,"T":253},{"min":180,"wn":2263,"T":298},{"min":180,"wn":2256,"T":343},{"min":180,"wn":2249,"T":371},{"min":180,"wn":2240,"T":391},{"min":180,"wn":2229,"T":405},{"min":180,"wn":2216,"T":413},{"min":180,"wn":2200,"T":418},{"min":180,"wn":2182,"T":423},{"min":180,"wn":2161,"T":425},{"min":180,"wn":2139,"T":428},{"min":180,"wn":2116,"T":427},{"min":180,"wn":2087,"T":427},{"min":180,"wn":2053,"T":430},{"min":180,"wn":2019,"T":429},{"min":180,"wn":1985,"T":431},{"min":180,"wn":1952,"T":429},{"min":180,"wn":1918,"T":430},{"min":180,"wn":1884,"T":428},{"min":180,"wn":1850,"T":431},{"min":180,"wn":1827,"T":431},{"min":180,"wn":1812,"T":428},{"min":180,"wn":1800,"T":418},{"min":180,"wn":1794,"T":398},{"min":180,"wn":1787,"T":326},{"min":180,"wn":1780,"T":259},{"min":180,"wn":1773,"T":196},{"min":180,"wn":1766,"T":160},{"min":180,"wn":1760,"T":169},{"min":180,"wn":1753,"T":157},{"min":180,"wn":1746,"T":138},{"min":180,"wn":1739,"T":98},{"min":180,"wn":1733,"T":75},{"min":180,"wn":1726,"T":83},{"min":180,"wn":1719,"T":87},{"min":180,"wn":1712,"T":87},{"min":180,"wn":1705,"T":101},{"min":180,"wn":1696,"T":148},{"min":180,"wn":1685,"T":203},{"min":180,"wn":1674,"T":248},{"min":180,"wn":1663,"T":288},{"min":180,"wn":1651,"T":318},{"min":180,"wn":1642,"T":341},{"min":180,"wn":1633,"T":315},{"min":180,"wn":1624,"T":248},{"min":180,"wn":1617,"T":201},{"min":180,"wn":1611,"T":191},{"min":180,"wn":1604,"T":153},{"min":180,"wn":1597,"T":115},{"min":180,"wn":1590,"T":81},{"min":180,"wn":1584,"T":148},{"min":180,"wn":1577,"T":201},{"min":180,"wn":1570,"T":228},{"min":180,"wn":1563,"T":208},{"min":180,"wn":1554,"T":168},{"min":180,"wn":1545,"T":118},{"min":180,"wn":1536,"T":71},{"min":180,"wn":1527,"T":25},{"min":180,"wn":1518,"T":43},{"min":180,"wn":1509,"T":73},{"min":180,"wn":1500,"T":95},{"min":180,"wn":1491,"T":101},{"min":180,"wn":1482,"T":101},{"min":180,"wn":1473,"T":123},{"min":180,"wn":1464,"T":151},{"min":180,"wn":1455,"T":121},{"min":180,"wn":1446,"T":161},{"min":180,"wn":1437,"T":178},{"min":180,"wn":1428,"T":176},{"min":180,"wn":1419,"T":165},{"min":180,"wn":1410,"T":215},{"min":180,"wn":1403,"T":255}
]}
},
{
"data": {"values": [{"wn": 3204, "T": 401, "label": "(b)"}]},
"mark": {"type": "text", "font": "DejaVu Sans", "fontWeight": "bold", "fontSize": 23, "baseline": "alphabetic", "align": "center", "color": "black"},
"encoding": {"text": {"field": "label"}}
}
]
}
